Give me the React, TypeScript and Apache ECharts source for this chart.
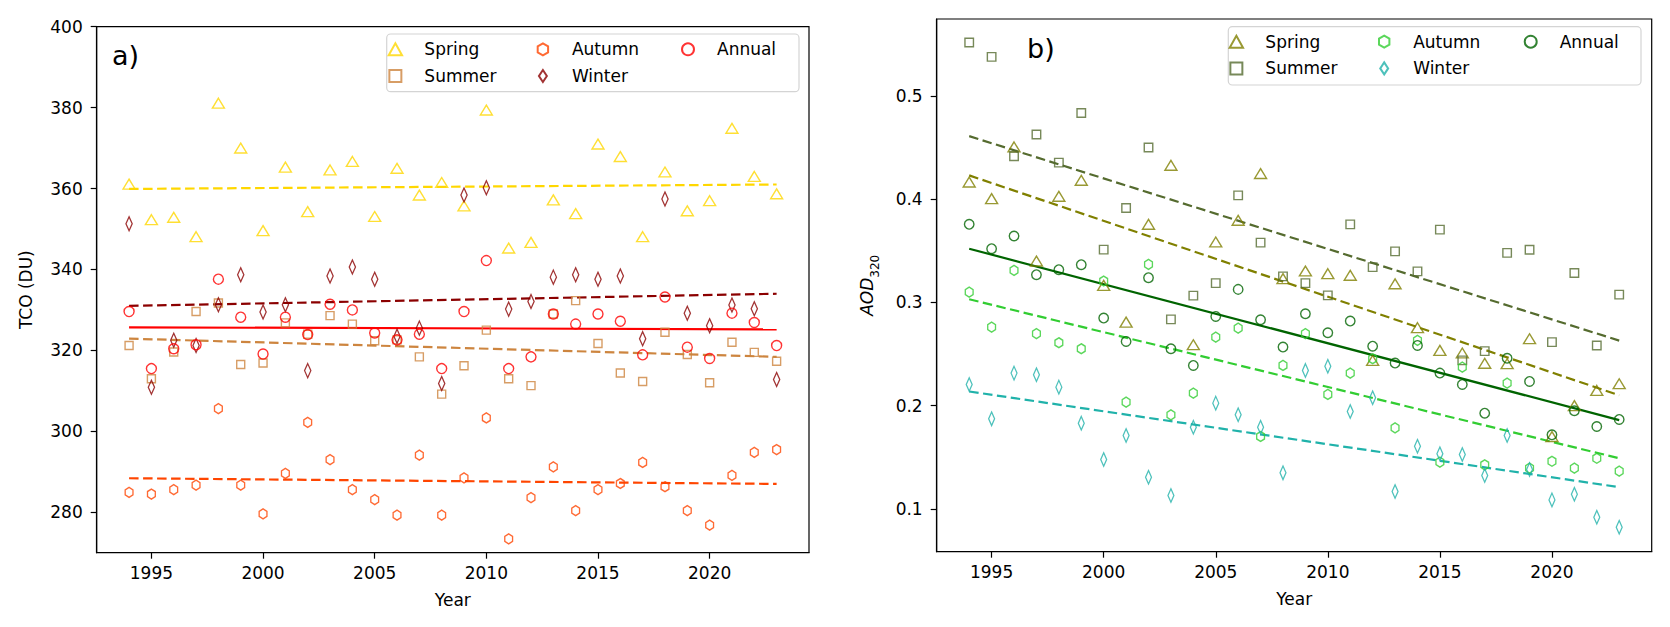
import React, { useEffect, useRef } from 'react';
import * as echarts from 'echarts';

const FONT = 'DejaVu Sans';

const years = [1994, 1995, 1996, 1997, 1998, 1999, 2000, 2001, 2002, 2003, 2004, 2005, 2006, 2007, 2008, 2009, 2010, 2011, 2012, 2013, 2014, 2015, 2016, 2017, 2018, 2019, 2020, 2021, 2022, 2023];
const yearTicks = [1995, 2000, 2005, 2010, 2015, 2020];

// Panel a) TCO (DU)
const springTCO = [361.1, 352.3, 352.9, 348.1, 381.1, 370.0, 349.6, 365.3, 354.3, 364.6, 366.7, 353.1, 365.0, 358.4, 361.5, 355.7, 379.4, 345.3, 346.7, 357.2, 353.8, 371.0, 367.9, 348.1, 364.1, 354.5, 357.0, 374.9, 363.0, 358.7];
const summerTCO = [321.2, 313.0, 319.6, 329.6, 331.7, 316.5, 316.9, 326.8, 324.0, 328.6, 326.5, 322.4, 322.6, 318.4, 309.2, 316.2, 325.0, 313.0, 311.3, 329.0, 332.3, 321.7, 314.4, 312.3, 324.5, 319.0, 312.0, 322.0, 319.5, 317.3];
const autumnTCO = [284.9, 284.5, 285.6, 286.7, 305.6, 286.7, 279.6, 289.6, 302.2, 293.0, 285.6, 283.1, 279.3, 294.1, 279.3, 288.5, 303.3, 273.4, 283.6, 291.2, 280.4, 285.6, 287.1, 292.3, 286.3, 280.4, 276.8, 289.1, 294.8, 295.5];
const winterTCO = [351.3, 310.9, 322.5, 321.2, 331.3, 338.7, 329.5, 331.3, 315.0, 338.4, 340.6, 337.6, 323.5, 325.5, 311.8, 358.4, 360.2, 330.2, 332.1, 338.1, 338.7, 337.6, 338.4, 322.9, 357.4, 329.2, 326.1, 331.2, 330.3, 312.8];
const annualTCO = [329.6, 315.5, 320.4, 321.4, 337.6, 328.2, 319.1, 328.2, 323.9, 331.4, 330.0, 324.3, 322.6, 324.0, 315.5, 329.6, 342.2, 315.5, 318.4, 329.0, 326.5, 329.0, 327.2, 318.9, 333.2, 320.8, 318.0, 329.2, 326.9, 321.2];
// trend line values at 1994 and 2023
const springTCOTrend = [359.9, 361.0];
const summerTCOTrend = [322.9, 318.4];
const autumnTCOTrend = [288.4, 287.0];
const winterTCOTrend = [331.0, 334.0];
const annualTCOTrend = [325.7, 325.2];
const tcoTicks = [280, 300, 320, 340, 360, 380, 400];

// Panel b) AOD320
const springAOD = [0.4166, 0.4005, 0.4506, 0.340, 0.4028, 0.4183, 0.3165, 0.2809, 0.3756, 0.4328, 0.259, 0.3585, 0.3795, 0.4248, 0.323, 0.3304, 0.3278, 0.3262, 0.2438, 0.318, 0.2755, 0.2535, 0.251, 0.241, 0.2406, 0.2648, 0.170, 0.200, 0.2147, 0.2212];
const summerAOD = [0.5518, 0.5378, 0.4415, 0.4626, 0.4354, 0.4835, 0.3511, 0.3914, 0.450, 0.2835, 0.3065, 0.3187, 0.4037, 0.3579, 0.3252, 0.3187, 0.3068, 0.3756, 0.3342, 0.3494, 0.330, 0.3705, 0.2438, 0.2528, 0.348, 0.351, 0.2615, 0.3284, 0.2583, 0.3075];
const autumnAOD = [0.310, 0.276, 0.331, 0.2697, 0.2609, 0.2551, 0.3207, 0.2034, 0.3368, 0.1911, 0.2121, 0.2664, 0.2751, 0.1701, 0.2389, 0.2697, 0.2108, 0.2315, 0.2454, 0.1785, 0.2632, 0.1452, 0.2373, 0.1427, 0.2218, 0.1394, 0.1461, 0.1394, 0.149, 0.1365];
const winterAOD = [0.2205, 0.1872, 0.2315, 0.2299, 0.2179, 0.183, 0.1478, 0.171, 0.1306, 0.1129, 0.1791, 0.2024, 0.1911, 0.1791, 0.1349, 0.2341, 0.2382, 0.1943, 0.2076, 0.1168, 0.1607, 0.1533, 0.1526, 0.1323, 0.171, 0.1381, 0.1087, 0.1142, 0.0919, 0.0822];
const annualAOD = [0.3756, 0.352, 0.3643, 0.3268, 0.3317, 0.3365, 0.2848, 0.2622, 0.3239, 0.2551, 0.2389, 0.2864, 0.3126, 0.2832, 0.2567, 0.289, 0.2706, 0.2819, 0.2576, 0.2412, 0.2583, 0.2315, 0.2205, 0.1927, 0.2459, 0.2234, 0.1717, 0.195, 0.1798, 0.1866];
const springAODTrend = [0.423, 0.210];
const summerAODTrend = [0.461, 0.263];
const autumnAODTrend = [0.303, 0.149];
const winterAODTrend = [0.2137, 0.121];
const annualAODTrend = [0.352, 0.186];
const aodTicks = [0.1, 0.2, 0.3, 0.4, 0.5];

const legendCol1 = ['Spring', 'Summer'];
const legendCol2 = ['Autumn', 'Winter'];
const legendCol3 = ['Annual'];

const TRI = 'path://M0,-9L10,9L-10,9Z';
const SQR = 'path://M-10,-10L10,-10L10,10L-10,10Z';
const HEX = 'path://M0,-10L8.66,-5L8.66,5L0,10L-8.66,5L-8.66,-5Z';
const DIAMOND = 'path://M0,-10L6.6,0L0,10L-6.6,0Z';

function scatter(name: string, vals: number[], symbol: string, size: any, color: string, idx: number) {
  return {
    type: 'scatter',
    name,
    xAxisIndex: idx,
    yAxisIndex: idx,
    data: years.map((y, i) => [y, vals[i]]),
    symbol,
    symbolSize: size,
    symbolKeepAspect: true,
    itemStyle: { color: 'rgba(0,0,0,0)', borderColor: color, borderWidth: 1.4 },
    emphasis: { disabled: true },
    z: 2,
  };
}

function trend(name: string, ends: number[], color: string, dashed: boolean, idx: number) {
  return {
    type: 'line',
    name,
    xAxisIndex: idx,
    yAxisIndex: idx,
    data: [[years[0], ends[0]], [years[years.length - 1], ends[1]]],
    symbol: 'none',
    silent: true,
    lineStyle: { color, width: 2.2, type: dashed ? [9.5, 4.5] : 'solid' },
    z: 2,
  };
}

const textBase = { fontFamily: FONT, fontSize: 17, color: '#000' };

function xAxisDef(idx: number) {
  return {
    type: 'value',
    gridIndex: idx,
    min: 1992.55,
    max: 2024.45,
    name: 'Year',
    nameLocation: 'middle',
    nameGap: 39,
    nameTextStyle: { ...textBase },
    axisLine: { show: true, onZero: false, lineStyle: { color: '#000', width: 1.2 } },
    axisTick: { show: true, length: 6, lineStyle: { color: '#000', width: 1.2 }, customValues: yearTicks },
    axisLabel: { ...textBase, margin: 12, customValues: yearTicks, formatter: (v: number) => String(v) },
    splitLine: { show: false },
  };
}

function yAxisDef(idx: number, min: number, max: number, ticks: number[], name: string, nameGap: number, rich?: any) {
  return {
    type: 'value',
    gridIndex: idx,
    min,
    max,
    name,
    nameLocation: 'middle',
    nameRotate: 90,
    nameGap,
    nameTextStyle: rich ? { ...textBase, rich } : { ...textBase },
    axisLine: { show: true, onZero: false, lineStyle: { color: '#000', width: 1.2 } },
    axisTick: { show: true, length: 6, lineStyle: { color: '#000', width: 1.2 }, customValues: ticks },
    axisLabel: { ...textBase, margin: 14, customValues: ticks, formatter: (v: number) => (idx === 1 ? v.toFixed(1) : String(v)) },
    splitLine: { show: false },
  };
}

function legendDef(data: string[], left: number, top: number, suffix: string) {
  return {
    orient: 'vertical',
    left,
    top,
    padding: 0,
    itemWidth: 48,
    itemHeight: 12,
    itemGap: 6.7,
    selectedMode: false,
    symbolKeepAspect: true,
    data: data.map((d) => d + suffix),
    formatter: (n: string) => n.replace(/ b$/, ''),
    textStyle: { ...textBase, lineHeight: 20, padding: [0, 0, 0, 0] },
  };
}

export default function App() {
  const ref = useRef<HTMLDivElement>(null);
  useEffect(() => {
    if (!ref.current) return;
    const chart = echarts.init(ref.current, undefined, { renderer: 'svg' });
    const option: any = {
      animation: false,
      backgroundColor: '#fff',
      grid: [
        { left: 96.7, right: 861, top: 26.7, bottom: 74.3, show: true, borderColor: '#000', borderWidth: 1.2, backgroundColor: 'rgba(0,0,0,0)' },
        { left: 936.7, right: 18.3, top: 19, bottom: 75.3, show: true, borderColor: '#000', borderWidth: 1.2, backgroundColor: 'rgba(0,0,0,0)' },
      ],
      xAxis: [xAxisDef(0), xAxisDef(1)],
      yAxis: [
        yAxisDef(0, 270, 400, tcoTicks, 'TCO (DU)', 62),
        yAxisDef(1, 0.0585, 0.5745, aodTicks, '{i|AOD}{s|320}', 56, {
          i: { fontFamily: FONT, fontSize: 17, fontStyle: 'italic', color: '#000', lineHeight: 22, verticalAlign: 'top' },
          s: { fontFamily: FONT, fontSize: 12, color: '#000', lineHeight: 22, verticalAlign: 'bottom', padding: [0, 0, 0, 0] },
        }),
      ],
      legend: [
        legendDef(legendCol1, 387.7, 39.3, ''),
        legendDef(legendCol2, 536.7, 39.3, ''),
        legendDef(legendCol3, 681, 39.3, ''),
        legendDef(legendCol1, 1228.7, 31.7, ' b'),
        legendDef(legendCol2, 1378, 31.7, ' b'),
        legendDef(legendCol3, 1523.7, 31.7, ' b'),
      ],
      graphic: [
        { type: 'rect', z: 3, shape: { x: 386.7, y: 34, width: 412.3, height: 57.7, r: 4 }, style: { fill: 'rgba(255,255,255,0.8)', stroke: '#d4d4d4', lineWidth: 1.2 } },
        { type: 'rect', z: 3, shape: { x: 1228.3, y: 26.7, width: 412.7, height: 58.3, r: 4 }, style: { fill: 'rgba(255,255,255,0.8)', stroke: '#d4d4d4', lineWidth: 1.2 } },
        { type: 'text', z: 5, style: { x: 112, y: 55, text: 'a)', fontFamily: FONT, fontSize: 27, fill: '#000', verticalAlign: 'middle' } },
        { type: 'text', z: 5, style: { x: 1027, y: 48, text: 'b)', fontFamily: FONT, fontSize: 27, fill: '#000', verticalAlign: 'middle' } },
      ],
      series: [
        scatter('Spring', springTCO, TRI, [12, 11], '#FFD700', 0),
        scatter('Summer', summerTCO, SQR, 8, '#CD853F', 0),
        scatter('Autumn', autumnTCO, HEX, [9, 10], '#FF4500', 0),
        scatter('Winter', winterTCO, DIAMOND, [9.5, 14], '#8B0000', 0),
        scatter('Annual', annualTCO, 'circle', 10, '#FF0000', 0),
        trend('Spring trend', springTCOTrend, '#FFD700', true, 0),
        trend('Summer trend', summerTCOTrend, '#CD853F', true, 0),
        trend('Autumn trend', autumnTCOTrend, '#FF4500', true, 0),
        trend('Winter trend', winterTCOTrend, '#8B0000', true, 0),
        trend('Annual trend', annualTCOTrend, '#FF0000', false, 0),

        scatter('Spring b', springAOD, TRI, [12, 11], '#808000', 1),
        scatter('Summer b', summerAOD, SQR, 8.5, '#556B2F', 1),
        scatter('Autumn b', autumnAOD, HEX, [9, 10], '#32CD32', 1),
        scatter('Winter b', winterAOD, DIAMOND, [9, 13.5], '#20B2AA', 1),
        scatter('Annual b', annualAOD, 'circle', 9.5, '#006400', 1),
        trend('Spring trend b', springAODTrend, '#808000', true, 1),
        trend('Summer trend b', summerAODTrend, '#556B2F', true, 1),
        trend('Autumn trend b', autumnAODTrend, '#32CD32', true, 1),
        trend('Winter trend b', winterAODTrend, '#20B2AA', true, 1),
        trend('Annual trend b', annualAODTrend, '#006400', false, 1),
      ],
    };
    chart.setOption(option);
    return () => chart.dispose();
  }, []);
  return <div ref={ref} style={{ position: 'absolute', left: 0, top: 0, width: 1670, height: 627 }} />;
}
